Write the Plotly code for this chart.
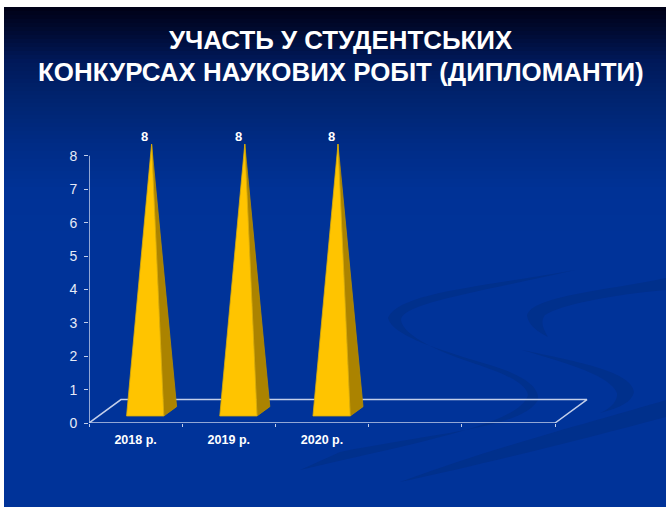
import plotly.graph_objects as go

# ---- data ----
categories = ["2018 р.", "2019 р.", "2020 р."]
values = [8, 8, 8]
y_ticks = [0, 1, 2, 3, 4, 5, 6, 7, 8]
slots = 5
title_lines = ["УЧАСТЬ У СТУДЕНТСЬКИХ", "КОНКУРСАХ НАУКОВИХ РОБІТ (ДИПЛОМАНТИ)"]

# ---- style / geometry ----
W, H = 666, 507
ML, MR, MT, MB = 89, 76, 139, 84
DX, DY = 0.343, 0.70       # 3-D depth shift in axis units
FRONT, MID, BACK = 0.3, 0.5, 0.7
HALF = 0.2
AXIS_COL = "#c3cfea"
GOLD, GOLD_DARK = "#ffc400", "#ab8300"
SWOOSH = "#00308c"
FONT = "Liberation Sans"


def px(x):
    return (x - ML) / (W - ML - MR)


def py(y):
    return (H - MB - y) / (H - MT - MB)


def proj(x, y, d):
    return x + d * DX, y + d * DY


shapes = []
stops = [(7, (0, 0, 22)), (30, (0, 10, 48)), (60, (0, 24, 88)), (100, (0, 36, 112)),
         (140, (0, 43, 132)), (190, (0, 50, 150)), (240, (0, 51, 153)), (507, (0, 51, 153))]


def grad(y):
    for (a, ca), (b, cb) in zip(stops, stops[1:]):
        if a <= y <= b:
            t = (y - a) / (b - a)
            return "rgb(%d,%d,%d)" % tuple(round(p + (q - p) * t) for p, q in zip(ca, cb))
    return "rgb(0,51,153)"


for y0 in range(7, 507, 4):
    shapes.append(dict(type="rect", xref="paper", yref="paper", layer="below",
                       x0=px(4), x1=px(666), y0=py(y0), y1=py(min(y0 + 4.5, 507)),
                       fillcolor=grad(y0 + 2), line_width=0))


def path(cmds):
    out = []
    for c in cmds:
        out.append(c[0] + " " + " ".join(
            f"{px(c[i]):.5f},{py(c[i + 1]):.5f}" for i in range(1, len(c), 2)))
    return " ".join(out) + " Z"


swooshes = [
    [("M", 575, 270), ("C", 490, 286, 398, 292, 388, 318), ("C", 392, 336, 440, 350, 490, 365),
     ("C", 520, 374, 540, 386, 538, 400), ("C", 522, 428, 440, 432, 340, 452), ("L", 300, 470),
     ("C", 420, 442, 520, 424, 528, 395), ("C", 526, 382, 500, 372, 470, 362),
     ("C", 440, 352, 403, 336, 401, 320), ("C", 402, 303, 480, 292, 575, 270)],
    [("M", 666, 278), ("C", 610, 290, 530, 296, 527, 316), ("C", 529, 326, 538, 332, 548, 337),
     ("C", 543, 328, 540, 322, 545, 315), ("C", 560, 305, 610, 295, 666, 290)],
    [("M", 522, 350), ("C", 580, 362, 632, 372, 634, 392), ("C", 632, 402, 620, 408, 600, 413),
     ("C", 612, 408, 618, 400, 617, 393), ("C", 610, 376, 570, 364, 522, 350)],
    [("M", 666, 400), ("C", 600, 420, 500, 445, 400, 482), ("C", 480, 465, 580, 440, 666, 417)],
]
for s in swooshes:
    shapes.append(dict(type="path", xref="paper", yref="paper", layer="below",
                       path=path(s), fillcolor=SWOOSH, line_width=0))

fig = go.Figure()


def line(xs, ys, color=AXIS_COL, width=1.5):
    fig.add_trace(go.Scatter(x=xs, y=ys, mode="lines", showlegend=False, hoverinfo="skip",
                             line=dict(color=color, width=width), cliponaxis=False))


# floor and y axis line
line([0, DX, slots + DX, slots], [0, DY, DY, 0])
line([0, slots], [0, 0])
line([0, 0], [0, y_ticks[-1]])

# pyramids
annotations = []
for i, (cat, v) in enumerate(zip(categories, values)):
    cx = i + 0.5
    fl = proj(cx - HALF, 0, FRONT)
    fr = proj(cx + HALF, 0, FRONT)
    br = proj(cx + HALF, 0, BACK)
    ap = proj(cx, v, MID)
    fig.add_trace(go.Scatter(x=[fr[0], br[0], ap[0], fr[0]], y=[fr[1], br[1], ap[1], fr[1]],
                             mode="lines", fill="toself", fillcolor=GOLD_DARK, showlegend=False,
                             line=dict(color="#b88e00", width=0.8), hoverinfo="skip"))
    fig.add_trace(go.Scatter(x=[fl[0], fr[0], ap[0], fl[0]], y=[fl[1], fr[1], ap[1], fl[1]],
                             mode="lines", fill="toself", fillcolor=GOLD, showlegend=False,
                             line=dict(color="#d9ad0a", width=0.8), name=cat,
                             hovertemplate=f"{cat}: {v}<extra></extra>"))
    annotations.append(dict(x=cx + 0.1, y=v, text=f"<b>{v}</b>", showarrow=False, yshift=19,
                            font=dict(family=FONT, size=13, color="white")))

for line_text, y_c in zip(title_lines, [40, 72]):
    annotations.append(dict(xref="paper", yref="paper", x=px(340.5), y=py(y_c), yanchor="middle",
                            xanchor="center", showarrow=False,
                            text=f"<b>{line_text}</b>",
                            font=dict(family=FONT, size=25.9, color="white")))

fig.update_layout(
    width=W, height=H, margin=dict(l=ML, r=MR, t=MT, b=MB, pad=0),
    paper_bgcolor="white", plot_bgcolor="rgba(0,0,0,0)",
    showlegend=False, shapes=shapes, annotations=annotations,
    xaxis=dict(range=[0, (W - ML - MR) / 93.2], showgrid=False, zeroline=False, showline=False,
               tickmode="array", tickvals=[i + 0.5 for i in range(len(categories))],
               ticktext=categories, ticks="", ticklen=0, ticklabelstandoff=7,
               tickfont=dict(family=FONT, size=12.5, color="white", weight="bold"),
               minor=dict(tickmode="array", tickvals=list(range(slots + 1)), ticks="outside",
                          ticklen=3, tickcolor=AXIS_COL, tickwidth=1, showgrid=False)),
    yaxis=dict(range=[0, (H - MT - MB) / 33.4], showgrid=False, zeroline=False, showline=False,
               tickmode="array", tickvals=y_ticks, ticks="outside", ticklen=4,
               tickcolor=AXIS_COL, tickwidth=1, ticklabelstandoff=4,
               tickfont=dict(family=FONT, size=14, color="#e6ebf7")),
)

fig.write_html("out.html", config={"displayModeBar": False},
               post_script="document.body.style.margin='0';document.body.style.overflow='hidden';")
